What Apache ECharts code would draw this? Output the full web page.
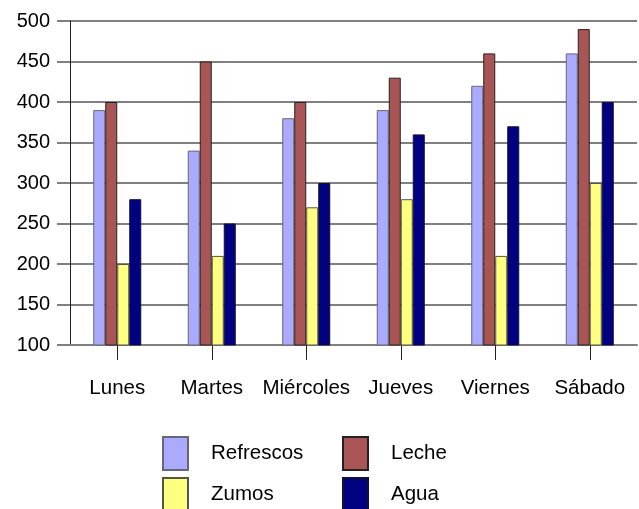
<!DOCTYPE html>
<html><head><meta charset="utf-8">
<script src="https://cdn.jsdelivr.net/npm/echarts@6/dist/echarts.min.js"></script>
<style>html,body{margin:0;padding:0;background:#fff}#c{width:639px;height:509px}</style>
</head><body><div id="c"></div>
<script>
const categories = ['Lunes','Martes','Miércoles','Jueves','Viernes','Sábado'];
const refrescos = [390, 340, 380, 390, 420, 460];
const leche = [400, 450, 400, 430, 460, 490];
const zumos = [200, 210, 270, 280, 210, 300];
const agua = [280, 250, 300, 360, 370, 400];
const seriesNames = ['Refrescos','Leche','Zumos','Agua'];
const colors = ['#aaaaff','#aa5555','#ffff80','#000080'];
const borders = ['#666677','#222222','#555544','#111133'];
const values = [refrescos, leche, zumos, agua];

const font = '"Liberation Sans", Arial, sans-serif';
const chart = echarts.init(document.getElementById('c'), null, {renderer:'canvas'});
const legendPos = [
  {left:162, top:436},
  {left:342, top:436},
  {left:162, top:477},
  {left:342, top:477}
];
chart.setOption({
  animation:false,
  backgroundColor:'#fff',
  grid:{left:70, right:2, top:21, bottom:164, containLabel:false},
  legend: seriesNames.map((n,i)=>({
    data:[n], left:legendPos[i].left, top:legendPos[i].top,
    itemWidth:25, itemHeight:33, itemGap:0, padding:0,
    icon:'rect',
    textStyle:{fontFamily:font, fontSize:20.5, color:'#000', padding:[0,0,0,18]},
    selectedMode:false
  })),
  xAxis:{
    type:'category', data:categories,
    axisLine:{show:true, lineStyle:{color:'#808080', width:2}},
    axisTick:{show:true, alignWithLabel:true, length:15, lineStyle:{color:'#222'}},
    axisLabel:{fontFamily:font, fontSize:20.5, color:'#000', margin:33, interval:0}
  },
  yAxis:{
    type:'value', min:100, max:500, interval:50,
    axisLine:{show:true, lineStyle:{color:'#222'}},
    axisTick:{show:true, length:13, lineStyle:{color:'#808080', width:2}},
    splitLine:{show:true, lineStyle:{color:'#808080', width:2}},
    axisLabel:{fontFamily:font, fontSize:20, color:'#000', margin:20}
  },
  series: seriesNames.map((n,i)=>({
    name:n, type:'bar', data:values[i],
    barWidth:12, barGap:'0%',
    itemStyle:{color:colors[i], borderColor:borders[i], borderWidth:1}
  }))
});
</script></body></html>
